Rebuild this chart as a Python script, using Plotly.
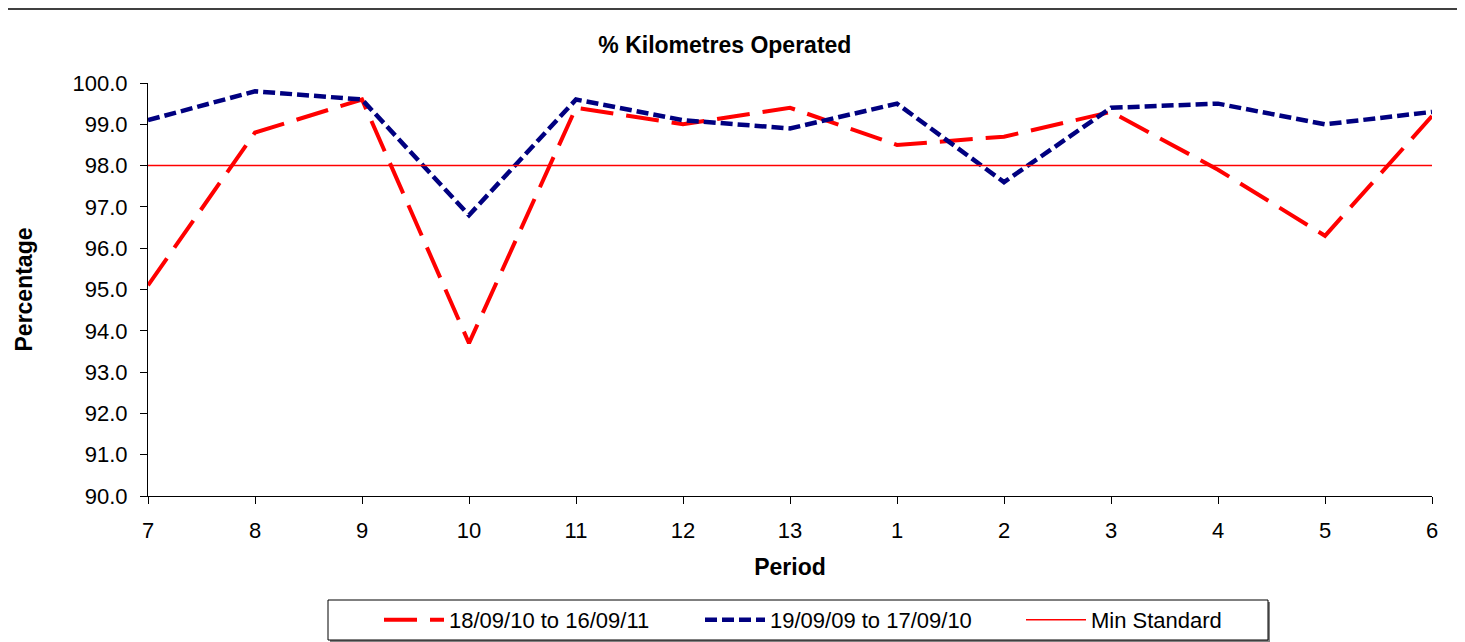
import plotly.graph_objects as go

periods = ["7", "8", "9", "10", "11", "12", "13", "1", "2", "3", "4", "5", "6"]
series_2010_11 = [95.1, 98.8, 99.6, 93.7, 99.4, 99.0, 99.4, 98.5, 98.7, 99.3, 97.9, 96.3, 99.2]
series_2009_10 = [99.1, 99.8, 99.6, 96.8, 99.6, 99.1, 98.9, 99.5, 97.6, 99.4, 99.5, 99.0, 99.3]
min_standard = [98.0] * len(periods)

name_a = "18/09/10 to 16/09/11"
name_b = "19/09/09 to 17/09/10"
name_c = "Min Standard"

FONT = "Liberation Sans, Arial, sans-serif"

# figure is placed at (8, 8) in the page; sizes below are figure coordinates
W, H = 1457, 634
L, R, T, B = 140, 1424, 75, 488
pw, ph = R - L, B - T

def px_x(p):
    return (p - L) / pw

def px_y(p):
    return (B - p) / ph

fig = go.Figure()
fig.add_trace(go.Scatter(x=periods, y=series_2010_11, name=name_a, mode="lines",
                         line=dict(color="#FF0000", width=4, dash="33px,13px")))
fig.add_trace(go.Scatter(x=periods, y=series_2009_10, name=name_b, mode="lines",
                         line=dict(color="#000080", width=4.5, dash="12px,5px")))
fig.add_trace(go.Scatter(x=periods, y=min_standard, name=name_c, mode="lines",
                         line=dict(color="#FF0000", width=1.5)))

fig.update_layout(
    width=W, height=H,
    margin=dict(l=L, r=W - R, t=T, b=H - B, autoexpand=False),
    paper_bgcolor="white", plot_bgcolor="white",
    font=dict(family=FONT, size=22, color="black"),
    title=dict(text="<b>% Kilometres Operated</b>", x=0.492, xanchor="center",
               xref="container", y=1 - 37 / H, yanchor="middle", yref="container",
               font=dict(size=23, family=FONT, color="black")),
    showlegend=True,
    legend=dict(orientation="h", x=px_x(371), xanchor="left", xref="paper",
                y=px_y(633), yanchor="bottom", yref="paper",
                borderwidth=0, bgcolor="rgba(0,0,0,0)",
                font=dict(size=22, family=FONT), entrywidth=246, entrywidthmode="pixels",
                itemwidth=60),
    xaxis=dict(type="category", range=[0, len(periods) - 1], showline=True,
               linecolor="black", linewidth=1, ticks="outside", ticklen=7,
               tickcolor="black", showgrid=False, zeroline=False,
               ticklabelstandoff=8,
               title=dict(text="<b>Period</b>", font=dict(size=23, family=FONT), standoff=16)),
    yaxis=dict(range=[90, 100], dtick=1, tick0=90, tickformat=".1f", showline=True,
               linecolor="black", linewidth=1, ticks="outside", ticklen=7,
               tickcolor="black", showgrid=False, zeroline=False,
               ticklabelstandoff=8,
               title=dict(text="<b>Percentage</b>", font=dict(size=23, family=FONT), standoff=33)),
    shapes=[
        # outer chart frame
        dict(type="line", xref="paper", yref="paper", x0=px_x(0), x1=px_x(1453),
             y0=px_y(1), y1=px_y(1), line=dict(color="black", width=1.5)),
        dict(type="line", xref="paper", yref="paper", x0=px_x(1453), x1=px_x(1453),
             y0=px_y(1), y1=px_y(640), line=dict(color="black", width=1.5)),
        # legend box with shadow
        dict(type="rect", xref="paper", yref="paper", x0=px_x(322), x1=px_x(1262),
             y0=px_y(634), y1=px_y(594), line=dict(color="#808080", width=0),
             fillcolor="#808080", layer="below"),
        dict(type="rect", xref="paper", yref="paper", x0=px_x(320), x1=px_x(1260),
             y0=px_y(632), y1=px_y(592), line=dict(color="black", width=1),
             fillcolor="white", layer="below"),
    ],
)

fig.write_html("out.html")
